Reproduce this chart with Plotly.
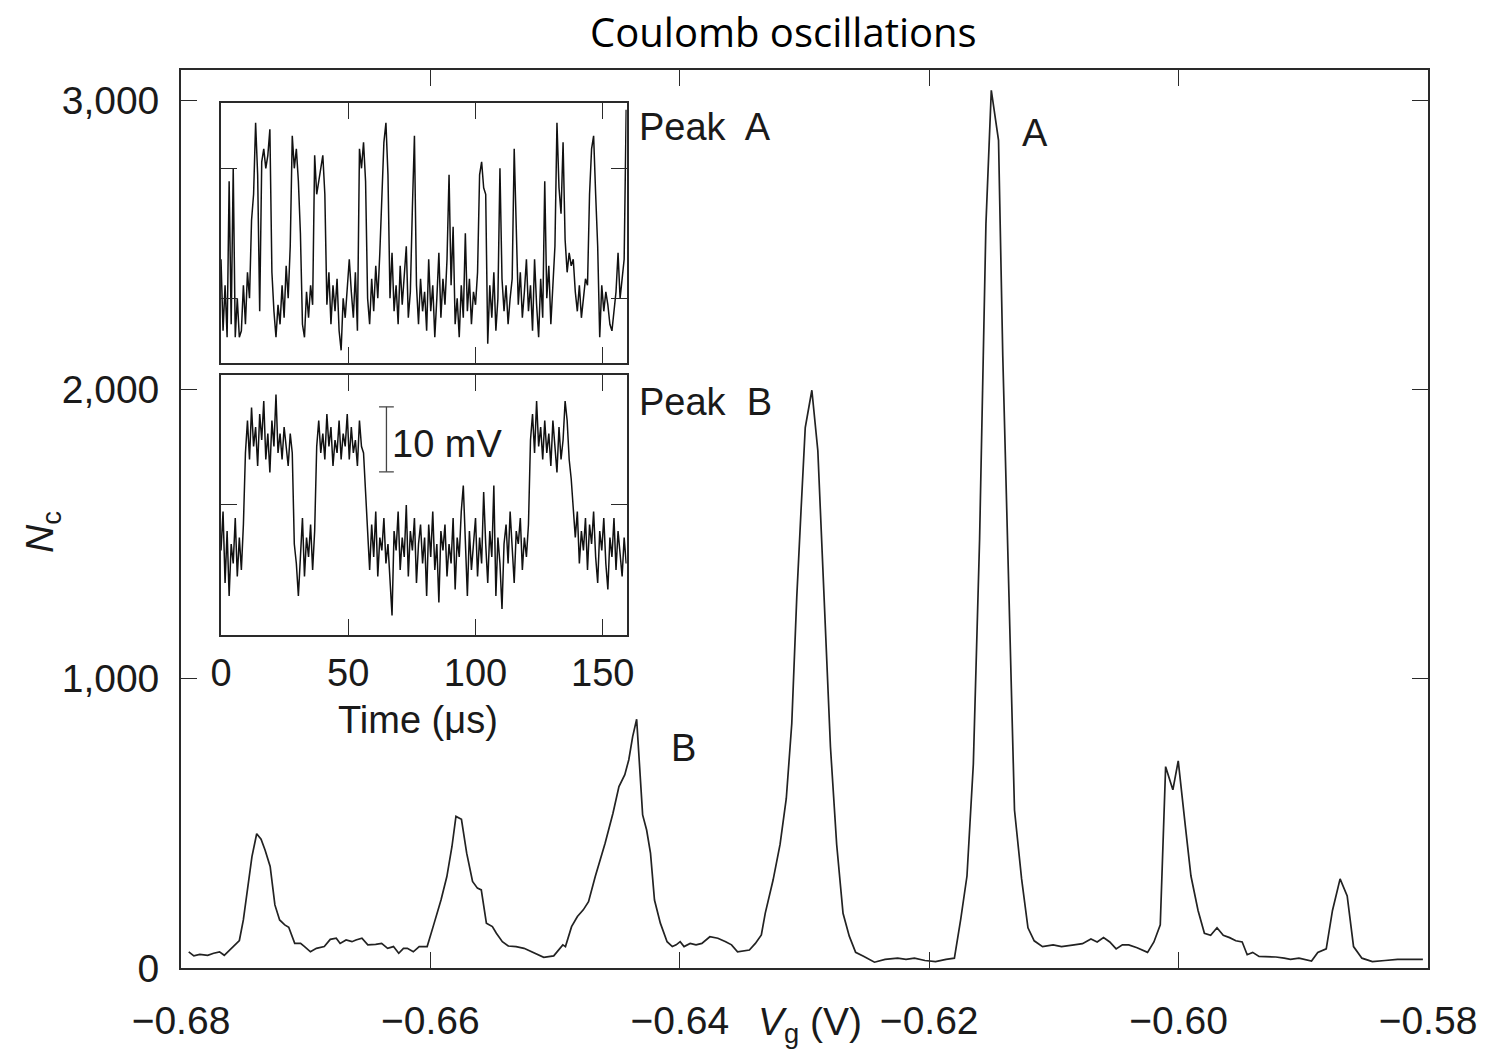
import plotly.graph_objects as go

# ---------------- main curve: N_c vs V_g ----------------
vg = [-0.67938, -0.67897, -0.67849, -0.67786, -0.67738, -0.67691, -0.67653, -0.67596, -0.67532, -0.67500,
      -0.67463, -0.67431, -0.67393, -0.67358, -0.67326, -0.67285, -0.67247, -0.67209, -0.67168, -0.67136,
      -0.67088, -0.67041, -0.67009, -0.66962, -0.66914, -0.66851, -0.66803, -0.66755, -0.66724, -0.66676,
      -0.66629, -0.66597, -0.66549, -0.66502, -0.66439, -0.66391, -0.66343, -0.66296, -0.66254, -0.66216,
      -0.66185, -0.66137, -0.66090, -0.66026, -0.65978, -0.65915, -0.65868, -0.65827, -0.65795, -0.65751,
      -0.65709, -0.65662, -0.65623, -0.65592, -0.65551, -0.65503, -0.65471, -0.65423, -0.65376, -0.65313,
      -0.65249, -0.65186, -0.65139, -0.65091, -0.65011, -0.64970, -0.64938, -0.64917, -0.64868, -0.64821,
      -0.64774, -0.64732, -0.64678, -0.64599, -0.64536, -0.64488, -0.64441, -0.64409, -0.64378, -0.64346,
      -0.64320, -0.64298, -0.64266, -0.64235, -0.64203, -0.64156, -0.64102, -0.64060, -0.64029, -0.63997,
      -0.63966, -0.63917, -0.63870, -0.63823, -0.63759, -0.63695, -0.63632, -0.63585, -0.63537, -0.63489,
      -0.63442, -0.63394, -0.63346, -0.63315, -0.63252, -0.63196, -0.63146, -0.63102, -0.63062, -0.63028,
      -0.62994, -0.62941, -0.62893, -0.62843, -0.62792, -0.62742, -0.62691, -0.62641, -0.62590, -0.62523,
      -0.62439, -0.62354, -0.62253, -0.62186, -0.62118, -0.62034, -0.61949, -0.61865, -0.61798, -0.61747,
      -0.61697, -0.61646, -0.61596, -0.61545, -0.61502, -0.61444, -0.61410, -0.61360, -0.61316, -0.61259,
      -0.61208, -0.61158, -0.61091, -0.61006, -0.60939, -0.60838, -0.60771, -0.60703, -0.60653, -0.60602,
      -0.60552, -0.60501, -0.60451, -0.60400, -0.60333, -0.60249, -0.60198, -0.60147, -0.60104, -0.60046,
      -0.60003, -0.59945, -0.59901, -0.59844, -0.59793, -0.59743, -0.59692, -0.59642, -0.59591, -0.59541,
      -0.59490, -0.59450, -0.59406, -0.59355, -0.59288, -0.59220, -0.59153, -0.59103, -0.59035, -0.58968,
      -0.58934, -0.58884, -0.58816, -0.58766, -0.58705, -0.58648, -0.58597, -0.58530, -0.58446, -0.58345,
      -0.58244, -0.58142, -0.58041]
nc = [56, 42, 47, 44, 51, 56, 44, 68, 95, 166,
      281, 385, 464, 445, 408, 351, 218, 166, 149, 141,
      85, 85, 74, 56, 68, 74, 99, 103, 85, 97,
      91, 97, 103, 80, 82, 85, 68, 74, 51, 68,
      68, 56, 74, 74, 143, 235, 316, 420, 524, 514,
      397, 299, 276, 270, 155, 143, 120, 91, 76, 74,
      68, 56, 45, 37, 42, 62, 80, 74, 143, 178,
      201, 229, 316, 431, 535, 627, 668, 720, 800, 860,
      674, 529, 477, 397, 235, 155, 91, 74, 80, 91,
      74, 85, 80, 85, 108, 103, 91, 80, 56, 60,
      62, 85, 114, 189, 304, 427, 586, 845, 1282, 1580,
      1868, 1997, 1788, 1282, 765, 427, 189, 110, 54, 40,
      20, 30, 34, 30, 34, 26, 22, 30, 34, 169,
      318, 705, 1480, 2573, 3034, 2861, 2116, 1282, 546, 308,
      139, 94, 74, 80, 74, 80, 84, 100, 90, 105,
      90, 66, 80, 80, 70, 54, 90, 149, 696, 616,
      716, 487, 318, 199, 120, 113, 139, 113, 105, 94,
      90, 46, 54, 40, 40, 38, 34, 30, 34, 26,
      24, 54, 66, 199, 308, 249, 74, 34, 22, 26,
      30, 30, 30]

x_ticks = [-0.68, -0.66, -0.64, -0.62, -0.60, -0.58]
y_ticks = [0, 1000, 2000, 3000]

# ---------------- inset traces (mV vs time in microseconds) ----------------
t_step_us = 0.8
peak_a_mv = [16, 5, 12, 4, 28, 6, 30, 4, 10, 4,
             5, 12, 6, 14, 10, 22, 26, 37, 29, 8,
             31, 33, 30, 32, 36, 14, 8, 4, 9, 6,
             12, 7, 15, 10, 18, 35, 30, 33, 28, 20,
             6, 4, 11, 7, 12, 9, 32, 26, 28, 30,
             32, 26, 9, 14, 6, 12, 8, 13, 5, 2,
             10, 7, 12, 16, 11, 7, 14, 5, 33, 30,
             34, 28, 10, 6, 13, 8, 15, 10, 17, 25,
             34, 37, 29, 10, 17, 8, 12, 6, 15, 9,
             13, 18, 7, 11, 24, 35, 12, 6, 13, 8,
             11, 5, 16, 8, 12, 4, 10, 17, 7, 13,
             9, 16, 29, 12, 21, 6, 10, 4, 12, 7,
             20, 8, 13, 6, 11, 9, 14, 29, 31, 27,
             26, 3, 12, 7, 14, 5, 10, 30, 13, 8,
             12, 6, 10, 13, 33, 20, 9, 14, 7, 11,
             16, 8, 12, 5, 16, 9, 4, 13, 7, 28,
             10, 15, 6, 12, 18, 37, 27, 23, 34, 19,
             14, 17, 15, 16, 11, 8, 12, 7, 10, 13,
             12, 26, 33, 35, 26, 18, 4, 12, 8, 11,
             9, 6, 5, 8, 11, 17, 10, 13, 16, 39]
peak_b_mv = [13, 19, 8, 16, 6, 14, 11, 18, 9, 15,
             10, 17, 28, 33, 27, 35, 29, 32, 26, 34,
             30, 36, 27, 31, 25, 33, 29, 37, 28, 31,
             27, 32, 29, 26, 31, 28, 14, 11, 6, 13,
             18, 9, 15, 12, 17, 10, 16, 29, 33, 28,
             31, 27, 34, 29, 32, 26, 30, 28, 33, 27,
             31, 29, 34, 27, 32, 28, 30, 26, 33, 29,
             28, 22, 15, 10, 17, 12, 19, 9, 15, 13,
             18, 11, 14, 9, 3, 16, 13, 19, 10, 15,
             12, 20, 9, 16, 13, 18, 8, 14, 17, 11,
             15, 6, 17, 12, 19, 10, 14, 5, 16, 13,
             17, 9, 14, 11, 18, 7, 15, 12, 19, 23,
             13, 6, 16, 10, 14, 18, 9, 15, 11, 22,
             14, 8, 16, 12, 23, 6, 15, 11, 4, 14,
             17, 11, 19, 13, 8, 16, 14, 18, 10, 15,
             12, 17, 30, 34, 28, 36, 29, 32, 27, 33,
             28, 31, 26, 33, 29, 25, 32, 27, 30, 36,
             33, 27, 24, 20, 15, 19, 11, 16, 13, 18,
             10, 17, 14, 19, 12, 8, 16, 13, 18, 11,
             7, 15, 12, 18, 10, 16, 13, 9, 15, 11]
inset_t_ticks = [0, 50, 100, 150]
inset_a_levels = [10, 30]
inset_b_levels = [20]

# 10 mV scale bar (inset B coordinates)
bar_t = 65.0
bar_cap = 2.9
bar_lo = 25.1
bar_hi = 35.1

t_a = [i * t_step_us for i in range(len(peak_a_mv))]
t_b = [i * t_step_us for i in range(len(peak_b_mv))]

FONT = "Liberation Sans, Arial, Helvetica, sans-serif"
INK = "#1a1a1a"

fig = go.Figure()
fig.add_trace(go.Scatter(x=vg, y=nc, mode="lines", line=dict(color="#222222", width=1.7),
                         xaxis="x", yaxis="y", showlegend=False, hoverinfo="skip"))
fig.add_trace(go.Scatter(x=t_a, y=peak_a_mv, mode="lines", line=dict(color="#111111", width=1.5),
                         xaxis="x2", yaxis="y2", showlegend=False, hoverinfo="skip"))
fig.add_trace(go.Scatter(x=t_b, y=peak_b_mv, mode="lines", line=dict(color="#111111", width=1.5),
                         xaxis="x3", yaxis="y3", showlegend=False, hoverinfo="skip"))
fig.add_trace(go.Scatter(
    x=[bar_t - bar_cap, bar_t + bar_cap, None, bar_t, bar_t, None, bar_t - bar_cap, bar_t + bar_cap],
    y=[bar_lo, bar_lo, None, bar_lo, bar_hi, None, bar_hi, bar_hi],
    mode="lines", line=dict(color="#444444", width=1.3),
    xaxis="x3", yaxis="y3", showlegend=False, hoverinfo="skip"))

axis_common = dict(showline=True, linecolor="#2a2a2a", linewidth=1.8, mirror="ticks",
                   ticks="inside", ticklen=16, tickwidth=1.4, tickcolor="#2a2a2a",
                   showgrid=False, zeroline=False)

inset_x_dom = [0.03208, 0.35742]

# page is rendered with an 8 px body margin, so the figure is sized to fit inside the window
fig.update_layout(
    width=1485, height=1053,
    margin=dict(l=173, r=65, t=62, b=93),
    paper_bgcolor="white", plot_bgcolor="white",
    font=dict(family=FONT, color=INK),
    xaxis=dict(domain=[0, 1], range=[-0.68, -0.58], tickvals=x_ticks, tickformat=".2f",
               tickfont=dict(size=39, family=FONT, color=INK), ticklabelstandoff=17,
               anchor="y", **axis_common),
    yaxis=dict(domain=[0, 1], range=[0, 3104], tickvals=y_ticks, tickformat=",d",
               tickfont=dict(size=39, family=FONT, color=INK), ticklabelstandoff=12,
               anchor="x", **axis_common),
    xaxis2=dict(domain=inset_x_dom, range=[0, 159.4], tickvals=inset_t_ticks,
                showticklabels=False, anchor="y2", **axis_common),
    yaxis2=dict(domain=[0.67339, 0.96292], range=[0, 40], tickvals=inset_a_levels,
                showticklabels=False, anchor="x2", **axis_common),
    xaxis3=dict(domain=inset_x_dom, range=[0, 159.4], tickvals=inset_t_ticks,
                tickfont=dict(size=38, family=FONT, color=INK), ticklabelstandoff=3,
                anchor="y3", **axis_common),
    yaxis3=dict(domain=[0.37082, 0.66036], range=[0, 40], tickvals=inset_b_levels,
                showticklabels=False, anchor="x3", **axis_common),
)

ann = []
ann.append(dict(text="Coulomb oscillations", xref="paper", yref="paper", x=0.4828, y=(968 - 31) / 898,
                xanchor="center", yanchor="middle", showarrow=False, borderpad=0,
                font=dict(family="Open Sans, Lato, sans-serif", size=40, color="#000000")))
ann.append(dict(text="Peak  A", xref="paper", yref="paper", x=0.3657, y=0.9365,
                xanchor="left", yanchor="middle", showarrow=False, font=dict(size=38)))
ann.append(dict(text="Peak  B", xref="paper", yref="paper", x=0.3657, y=0.6303,
                xanchor="left", yanchor="middle", showarrow=False, font=dict(size=38)))
ann.append(dict(text="10 mV", xref="paper", yref="paper", x=0.1676, y=0.5835,
                xanchor="left", yanchor="middle", showarrow=False, font=dict(size=38)))
ann.append(dict(text="Time (μs)", xref="paper", yref="paper", x=(418 - 181) / 1247, y=(968 - 720) / 898,
                xanchor="center", yanchor="middle", showarrow=False, font=dict(size=38)))
ann.append(dict(text="A", xref="x", yref="y", x=-0.61152, y=2886,
                xanchor="center", yanchor="middle", showarrow=False, font=dict(size=38)))
ann.append(dict(text="B", xref="x", yref="y", x=-0.63974, y=760,
                xanchor="center", yanchor="middle", showarrow=False, font=dict(size=38)))
ann.append(dict(text="<i>N</i><sub>c</sub>", xref="paper", yref="paper", x=(42 - 181) / 1247, y=(968 - 532) / 898,
                xanchor="center", yanchor="middle", textangle=-90, showarrow=False, font=dict(size=39)))
ann.append(dict(text="<i>V</i><sub>g</sub> (V)", xref="paper", yref="paper", x=(810 - 181) / 1247, y=(968 - 1024) / 898,
                xanchor="center", yanchor="middle", showarrow=False, font=dict(size=39)))
fig.update_layout(annotations=ann)

fig.write_html("out.html")
